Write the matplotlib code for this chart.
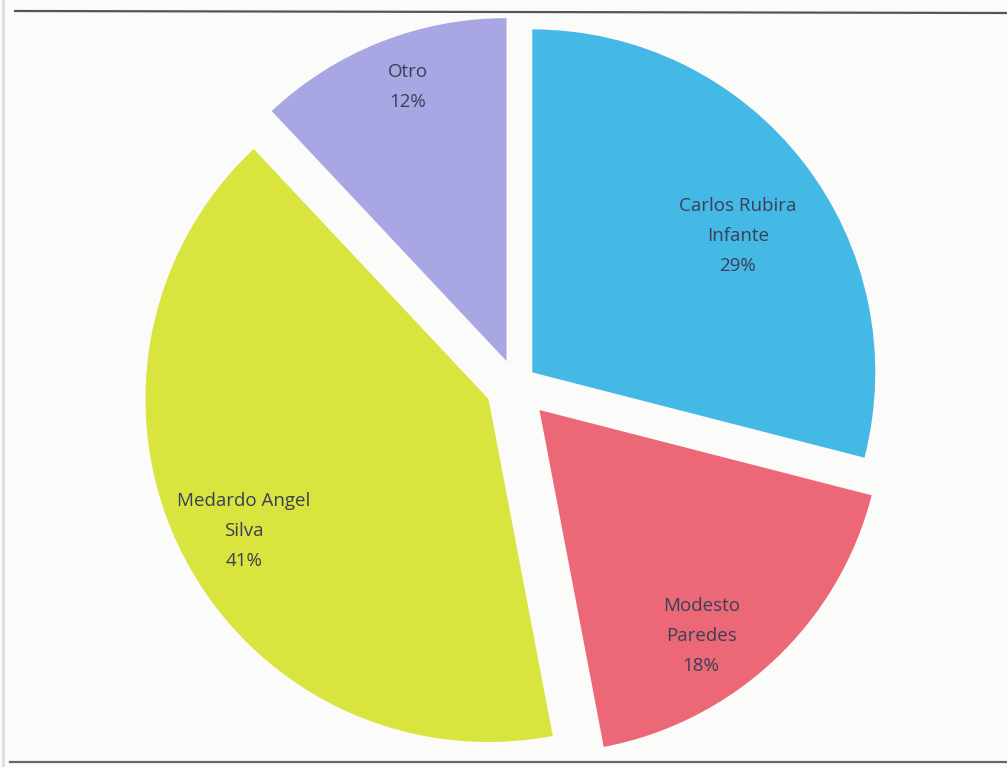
import numpy as np
import matplotlib
matplotlib.use("Agg")
import matplotlib.pyplot as plt
from matplotlib.lines import Line2D

plt.rcParams['font.family'] = ['Open Sans', 'DejaVu Sans']

# datos
autores = ['Carlos Rubira\nInfante', 'Modesto\nParedes', 'Medardo Angel\nSilva', 'Otro']
porcentajes = [29, 18, 41, 12]
colores = ['#45B9E6', '#EC6877', '#D9E43F', '#A8A6E3']
separacion = [0.06, 0.10, 0.09, 0.075]
dist_etiqueta = [0.72, 0.81, 0.81, 0.85]
giro_etiqueta = [-4.2, -7.6, 1.4, -1.8]   # grados respecto a la bisectriz

fig = plt.figure(figsize=(10.07, 7.67), dpi=100)
fig.patch.set_facecolor('#FBFBFA')
ax = fig.add_axes([0, 0, 1, 1])
ax.set_facecolor('#FBFBFA')

wedges, _ = ax.pie(porcentajes, colors=colores, startangle=90, counterclock=False,
                   explode=separacion, radius=1.0,
                   wedgeprops=dict(linewidth=0))

# etiquetas dentro de cada sector
for w, txt, p, d, g in zip(wedges, autores, porcentajes, dist_etiqueta, giro_etiqueta):
    ang = np.radians((w.theta1 + w.theta2) / 2 + g)
    cx, cy = w.center
    ax.text(cx + d * np.cos(ang), cy + d * np.sin(ang), f"{txt}\n{p}%",
            ha='center', va='center', fontsize=13.5, color='#3A3F55',
            linespacing=1.85)

# centro del pastel en pixeles (516, 385), radio 343 px
R = 343
ax.set_xlim(-516 / R, (1007 - 516) / R)
ax.set_ylim(-(767 - 385) / R, 385 / R)
ax.set_aspect('equal')
ax.axis('off')

# bordes del recuadro escaneado
fig.add_artist(Line2D([0.015, 1.0], [1 - 11 / 767, 1 - 13 / 767], color='#555555', lw=1.6,
                      transform=fig.transFigure))
fig.add_artist(Line2D([0.01, 1.0], [1 - 762 / 767, 1 - 762 / 767], color='#666666', lw=1.6,
                      transform=fig.transFigure))
fig.add_artist(Line2D([0.003, 0.003], [0.0, 1.0], color='#DDDDDD', lw=2,
                      transform=fig.transFigure))

fig.savefig('out.png', dpi=100)
